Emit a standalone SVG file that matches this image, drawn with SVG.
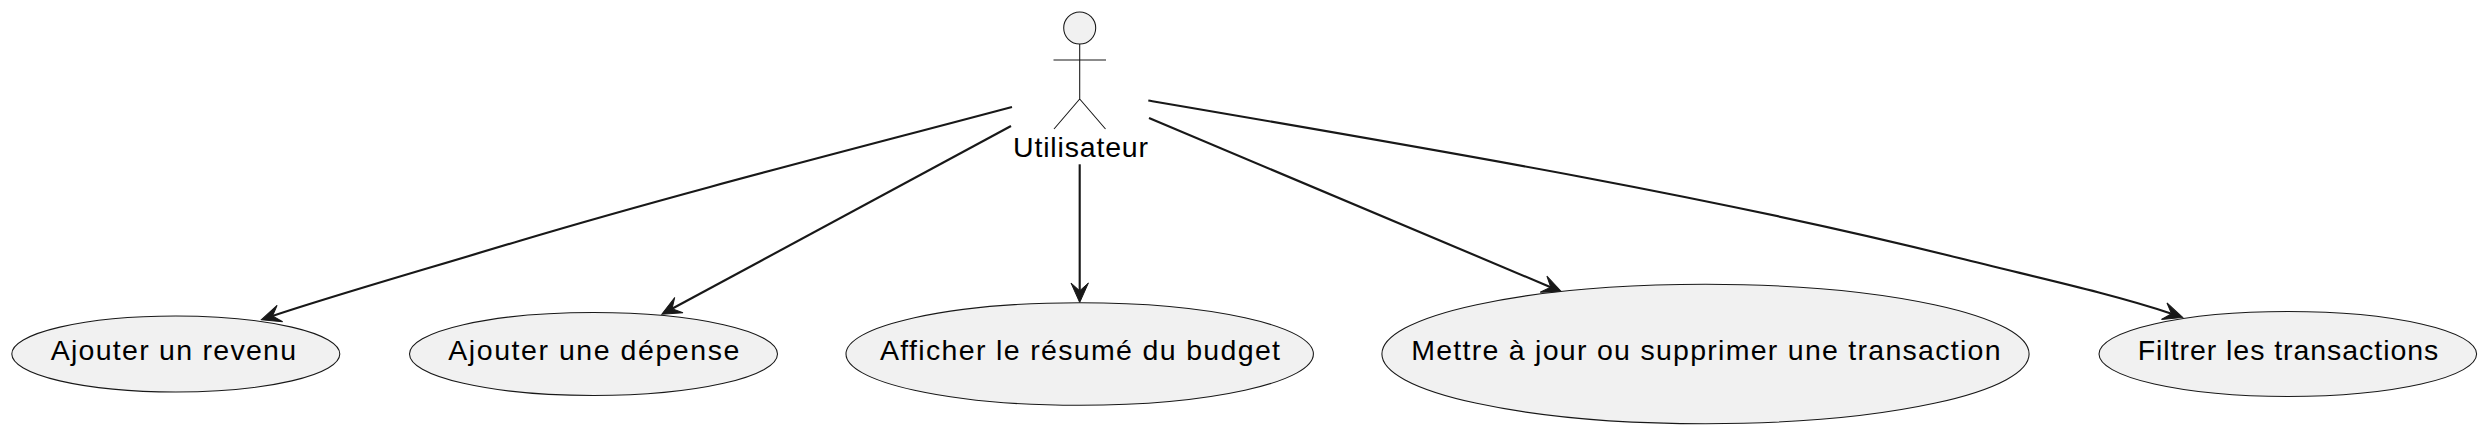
<svg xmlns="http://www.w3.org/2000/svg" width="2486" height="434" viewBox="0 0 2486 434">
<style>
.uc{fill:#F1F1F1;stroke:#181818;stroke-width:1.07}
.t{font-family:"Liberation Sans",Arial,sans-serif;font-size:28.5px;fill:#000}
.a{fill:#F1F1F1;stroke:#181818;stroke-width:1.07}
.al{fill:none;stroke:#181818;stroke-width:1.07}
.e{fill:none;stroke:#181818;stroke-width:2.14;marker-end:url(#arr)}
</style>
<defs>
<marker id="arr" markerUnits="userSpaceOnUse" viewBox="-9 -10 22 20" refX="0" refY="0" markerWidth="22" markerHeight="20" orient="auto" overflow="visible">
<path d="M11.7,0 L-7.8,-8.7 L0,0 L-7.8,8.7 Z" fill="#181818" stroke="#181818" stroke-width="1"/>
</marker>
</defs>
<rect width="2486" height="434" fill="#FFFFFF"/>
<g id="connectors">
<path class="e" d="M1012,107 C850,150 680,193 520,240.7 C430,268 335,295 272.5,316"/>
<path class="e" d="M1011,126 L672,308.8"/>
<path class="e" d="M1079.7,164.3 L1079.7,290.8"/>
<path class="e" d="M1149,118 L1550.7,287.2"/>
<path class="e" d="M1148.3,100.5 C1450,152 1720,198 1960,258.3 C2030,276 2110,293 2171.6,313.7"/>
</g>
<g id="actor-utilisateur">
<circle class="a" cx="1079.7" cy="28" r="16"/>
<path class="al" d="M1079.7,44 V99 M1053.5,60 H1106 M1079.7,99 L1054,129 M1079.7,99 L1105.5,129"/>
<text class="t" x="1013" y="157" textLength="135" lengthAdjust="spacing">Utilisateur</text>
</g>
<g id="uc-revenu">
<ellipse class="uc" cx="175.8" cy="354" rx="164" ry="38"/>
<text class="t" x="50.7" y="360" textLength="245.3" lengthAdjust="spacing">Ajouter un revenu</text>
</g>
<g id="uc-depense">
<ellipse class="uc" cx="593.5" cy="354" rx="184" ry="41.5"/>
<text class="t" x="448.3" y="360" textLength="291" lengthAdjust="spacing">Ajouter une dépense</text>
</g>
<g id="uc-resume">
<ellipse class="uc" cx="1079.7" cy="354" rx="233.7" ry="51.3"/>
<text class="t" x="880" y="360" textLength="400" lengthAdjust="spacing">Afficher le résumé du budget</text>
</g>
<g id="uc-maj">
<ellipse class="uc" cx="1705.5" cy="354" rx="323.6" ry="69.7"/>
<text class="t" x="1411.2" y="360" textLength="589.3" lengthAdjust="spacing">Mettre à jour ou supprimer une transaction</text>
</g>
<g id="uc-filtrer">
<ellipse class="uc" cx="2287.8" cy="354" rx="188.8" ry="42.5"/>
<text class="t" x="2137.7" y="360" textLength="300.6" lengthAdjust="spacing">Filtrer les transactions</text>
</g>
</svg>
